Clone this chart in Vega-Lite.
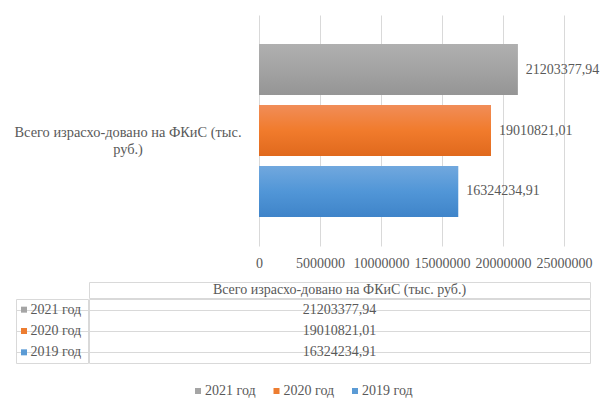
{
  "$schema": "https://vega.github.io/schema/vega-lite/v6.json",
  "background": "white",
  "padding": {"left": 10, "top": 15, "right": 4, "bottom": 2},
  "config": {
    "view": {"stroke": null},
    "font": "Liberation Serif",
    "axis": {"labelFont": "Liberation Serif", "titleFont": "Liberation Serif"},
    "text": {"font": "Liberation Serif", "fontSize": 14, "color": "#595959"}
  },
  "datasets": {
    "bars": [
      {"category": "Всего израсхо-довано на ФКиС (тыс. руб.)", "year": "2021 год", "value": 21203377.94, "label": "21203377,94"},
      {"category": "Всего израсхо-довано на ФКиС (тыс. руб.)", "year": "2020 год", "value": 19010821.01, "label": "19010821,01"},
      {"category": "Всего израсхо-довано на ФКиС (тыс. руб.)", "year": "2019 год", "value": 16324234.91, "label": "16324234,91"}
    ]
  },
  "spacing": 10,
  "resolve": {"scale": {"x": "independent", "y": "independent"}},
  "vconcat": [
    {
      "spacing": 9,
      "hconcat": [
        {
          "width": 236,
          "height": 231,
          "data": {"name": "bars"},
          "transform": [{"filter": "datum.year == '2021 год'"}],
          "mark": {"type": "text", "align": "center", "baseline": "middle", "fontSize": 14.4, "lineHeight": 17, "dy": 2},
          "encoding": {"text": {"value": ["Всего израсхо-довано на ФКиС (тыс.", "руб.)"]}}
        },
        {
          "width": 305,
          "height": 231,
          "data": {"name": "bars"},
          "encoding": {
            "y": {
              "field": "category", "type": "nominal", "title": null,
              "scale": {"paddingInner": 0, "paddingOuter": 0.168},
              "axis": null
            },
            "yOffset": {"field": "year", "type": "nominal", "sort": ["2021 год", "2020 год", "2019 год"], "scale": {"paddingInner": 0.164, "paddingOuter": 0}},
            "x": {
              "field": "value", "type": "quantitative", "title": null,
              "scale": {"domain": [0, 25000000], "nice": false},
              "axis": {"values": [0, 5000000, 10000000, 15000000, 20000000, 25000000], "format": "d", "grid": true, "gridColor": "#d9d9d9", "domain": false, "ticks": false, "labelPadding": 10, "labelFontSize": 14, "labelColor": "#595959", "labelFlush": false, "labelOverlap": false}
            }
          },
          "layer": [
            {
              "mark": {"type": "bar"},
              "encoding": {"color": {"field": "year", "type": "nominal", "scale": {"domain": ["2021 год", "2020 год", "2019 год"], "range": ["#a5a5a5", "#ed7d31", "#5b9bd5"]}, "legend": null}}
            },
            {
              "transform": [{"filter": "datum.year == '2021 год'"}],
              "mark": {"type": "bar", "color": {"gradient": "linear", "x1": 0, "y1": 0, "x2": 0, "y2": 1, "stops": [{"offset": 0, "color": "#b0b0b0"}, {"offset": 0.5, "color": "#a3a3a3"}, {"offset": 1, "color": "#959595"}]}}
            },
            {
              "transform": [{"filter": "datum.year == '2020 год'"}],
              "mark": {"type": "bar", "color": {"gradient": "linear", "x1": 0, "y1": 0, "x2": 0, "y2": 1, "stops": [{"offset": 0, "color": "#f18d58"}, {"offset": 0.5, "color": "#f17b2c"}, {"offset": 1, "color": "#e0691d"}]}}
            },
            {
              "transform": [{"filter": "datum.year == '2019 год'"}],
              "mark": {"type": "bar", "color": {"gradient": "linear", "x1": 0, "y1": 0, "x2": 0, "y2": 1, "stops": [{"offset": 0, "color": "#71a8de"}, {"offset": 0.5, "color": "#5196d7"}, {"offset": 1, "color": "#3f84c9"}]}}
            },
            {
              "mark": {"type": "text", "align": "left", "baseline": "middle", "dx": 8},
              "encoding": {"text": {"field": "label"}}
            }
          ]
        }
      ]
    },
    {
      "spacing": 0,
      "hconcat": [
        {
          "width": 5, "height": 10,
          "data": {"name": "bars"},
          "transform": [{"filter": "datum.year == '2021 год'"}],
          "mark": {"type": "text"},
          "encoding": {"text": {"value": ""}}
        },
        {
          "spacing": -2,
          "vconcat": [
            {
              "spacing": -2,
              "hconcat": [
                {
                  "width": 72, "height": 16,
                  "view": {"stroke": "transparent"},
                  "data": {"name": "bars"},
                  "transform": [{"filter": "datum.year == '2021 год'"}],
                  "mark": {"type": "text"},
                  "encoding": {"text": {"value": ""}}
                },
                {
                  "width": 501, "height": 16,
                  "view": {"stroke": "#d9d9d9"},
                  "data": {"name": "bars"},
                  "transform": [{"filter": "datum.year == '2021 год'"}],
                  "mark": {"type": "text", "baseline": "middle"},
                  "encoding": {"text": {"field": "category"}}
                }
              ]
            },
            {
              "spacing": -2,
              "hconcat": [
                {
                  "width": 72, "height": 64,
                  "view": {"stroke": "#d9d9d9"},
                  "data": {"name": "bars"},
                  "encoding": {
                    "y": {"field": "year", "type": "nominal", "sort": ["2021 год", "2020 год", "2019 год"], "title": null, "scale": {"paddingInner": 0, "paddingOuter": 0}, "axis": {"grid": true, "gridColor": "#d9d9d9", "bandPosition": 0, "labels": false, "ticks": false, "domain": false}}
                  },
                  "layer": [
                    {
                      "mark": {"type": "square", "size": 36, "opacity": 1, "xOffset": -28},
                      "encoding": {"color": {"field": "year", "type": "nominal", "legend": null}}
                    },
                    {
                      "mark": {"type": "text", "align": "left", "baseline": "middle", "dx": -21.5},
                      "encoding": {"text": {"field": "year"}}
                    }
                  ]
                },
                {
                  "width": 501, "height": 64,
                  "view": {"stroke": "#d9d9d9"},
                  "data": {"name": "bars"},
                  "mark": {"type": "text", "baseline": "middle"},
                  "encoding": {
                    "y": {"field": "year", "type": "nominal", "sort": ["2021 год", "2020 год", "2019 год"], "title": null, "scale": {"paddingInner": 0, "paddingOuter": 0}, "axis": {"grid": true, "gridColor": "#d9d9d9", "bandPosition": 0, "labels": false, "ticks": false, "domain": false}},
                    "text": {"field": "label"}
                  }
                }
              ]
            }
          ]
        }
      ]
    },
    {
      "spacing": 0,
      "hconcat": [
        {
          "width": 185, "height": 10,
          "data": {"name": "bars"},
          "transform": [{"filter": "datum.year == '2021 год'"}],
          "mark": {"type": "text"},
          "encoding": {"text": {"value": ""}}
        },
        {
          "width": 157, "height": 30,
          "data": {"name": "bars"},
          "encoding": {
            "x": {"field": "year", "type": "nominal", "sort": ["2021 год", "2020 год", "2019 год"], "scale": {"type": "point", "padding": 0}, "axis": null}
          },
          "layer": [
            {
              "mark": {"type": "square", "size": 36, "opacity": 1},
              "encoding": {"color": {"field": "year", "type": "nominal", "legend": null}}
            },
            {
              "mark": {"type": "text", "align": "left", "baseline": "middle", "dx": 7},
              "encoding": {"text": {"field": "year"}}
            }
          ]
        }
      ]
    }
  ]
}
